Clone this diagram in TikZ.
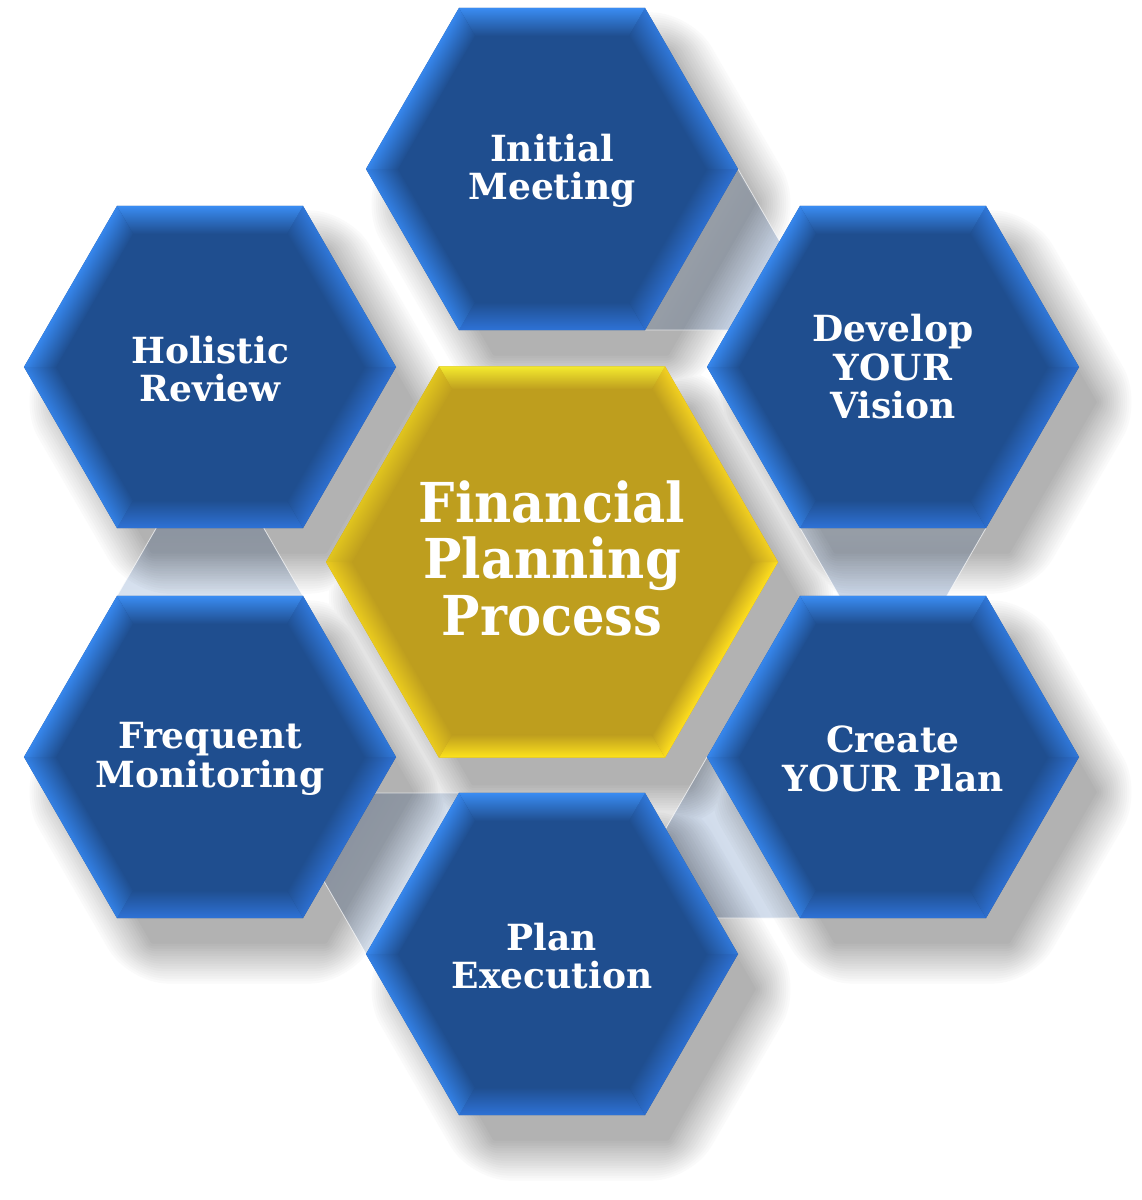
\documentclass[tikz,border=0pt]{standalone}
\usepackage{fontspec}
\setmainfont{DejaVu Serif}
\newfontfamily\bigserif{DejaVu Serif}[FakeStretch=0.93]
\usetikzlibrary{calc}
\definecolor{bmain}{HTML}{1F4E8F}
\definecolor{b0}{HTML}{2E72D6}
\definecolor{b1}{HTML}{2D6FD0}
\definecolor{b2}{HTML}{3078DA}
\definecolor{b3}{HTML}{3A8CF2}
\definecolor{b4}{HTML}{3686EC}
\definecolor{b5}{HTML}{3380E4}
\definecolor{gmain}{HTML}{BE9E1E}
\definecolor{g0}{HTML}{FFE41C}
\definecolor{g1}{HTML}{FFDF1E}
\definecolor{g2}{HTML}{F2D020}
\definecolor{g3}{HTML}{F4EA2E}
\definecolor{g4}{HTML}{E0C41E}
\definecolor{g5}{HTML}{EACB1E}
\definecolor{brA}{HTML}{D8E2EF}
\definecolor{brB}{HTML}{C8D4E6}
\tikzset{
  lbl/.style={text=white, align=center, inner sep=0pt, font=\bfseries\fontsize{36}{38.5}\selectfont},
  lblbig/.style={text=white, align=center, inner sep=0pt, font=\bigserif\bfseries\fontsize{55}{56.5}\selectfont},
  bridgeedge/.style={white, opacity=0.7, line width=0.8pt},
}
\newcommand{\hexbody}[5]{%
  \pgfmathsetmacro{\hh}{0.8660254*#3}%
  \pgfmathsetmacro{\ir}{#3-1.1547*#4}%
  \pgfmathsetmacro{\ih}{0.8660254*\ir}%
  \fill[#5main, shift={(#1,#2)}] (0:#3) -- (60:#3) -- (120:#3) -- (180:#3) -- (240:#3) -- (300:#3) -- cycle;
  \foreach \k in {0,...,5}{%
    \begin{scope}[transform canvas={shift={(#1,#2)},rotate=60*\k}]
      \shade[bottom color=#5\k, top color=#5main] (-#3/2,\hh) -- (#3/2,\hh) -- (\ir/2,\ih) -- (-\ir/2,\ih) -- cycle;
    \end{scope}}%
}
\newcommand{\hexbridge}[3]{%
  \begin{scope}[transform canvas={shift={(#1,#2)},rotate=#3}]
    \shade[blend mode=multiply, top color=brA, bottom color=brB] (-93,161) -- (93,161) -- (50.3,235) -- (-50.3,235) -- cycle;
    \draw[bridgeedge] (-93,161) -- (-50.3,235) (93,161) -- (50.3,235);
  \end{scope}}
\begin{document}
\begin{tikzpicture}[x=1pt,y=-1pt]
\fill[white] (0,0) rectangle (1142,1200);
% named centres
\coordinate (im) at (552,169);
\coordinate (hr) at (210,367);
\coordinate (dv) at (893,367);
\coordinate (fpp) at (552,562);
\coordinate (fm) at (210,757);
\coordinate (cp) at (893,757);
\coordinate (pe) at (552,954);
% soft shadows (layered, darkest wins)
\foreach \i in {0,...,16}{%
  \pgfmathsetmacro{\dd}{20*(1-2*\i/16)/0.866}%
  \pgfmathsetmacro{\cc}{30*(\i+1)/17}%
  \pgfmathsetmacro{\rc}{max(1,40-2.5*\i)}%
  \foreach \cx/\cy/\R in {552/169/186, 210/367/186, 893/367/186, 552/562/226, 210/757/186, 893/757/186, 552/954/186}{%
    \pgfmathsetmacro{\rr}{\R*1.065+\dd}%
    \fill[black!\cc, rounded corners=\rc pt, shift={(\cx+29,\cy+35)}] (0:\rr) -- (60:\rr) -- (120:\rr) -- (180:\rr) -- (240:\rr) -- (300:\rr) -- cycle;
  }}
% bridges (multiplied over the shadows)
\hexbridge{552}{169}{60}
\hexbridge{893}{367}{0}
\hexbridge{893}{757}{-60}
\hexbridge{552}{954}{240}
\hexbridge{210}{757}{180}
% hexagons
\hexbody{552}{169}{186}{28}{b}
\hexbody{210}{367}{186}{28}{b}
\hexbody{893}{367}{186}{28}{b}
\hexbody{210}{757}{186}{28}{b}
\hexbody{893}{757}{186}{28}{b}
\hexbody{552}{954}{186}{28}{b}
\hexbody{552}{562}{226}{23}{g}
% labels
\node[lbl] (tim) at ([yshift=-2pt]im) {Initial\\Meeting};
\node[lbl] (thr) at ([yshift=-2pt]hr) {Holistic\\Review};
\node[lbl] (tdv) at (dv) {Develop\\YOUR\\Vision};
\node[lbl] (tfm) at ([yshift=-2pt]fm) {Frequent\\Monitoring};
\node[lbl] (tcp) at ([yshift=-2pt]cp) {Create\\YOUR Plan};
\node[lbl] (tpe) at ([yshift=-2pt]pe) {Plan\\Execution};
\node[lblbig] (tfpp) at ([yshift=4pt]fpp) {Financial\\Planning\\Process};
\pgfresetboundingbox
\useasboundingbox (0,0) rectangle (1142,1200);
\end{tikzpicture}
\end{document}
